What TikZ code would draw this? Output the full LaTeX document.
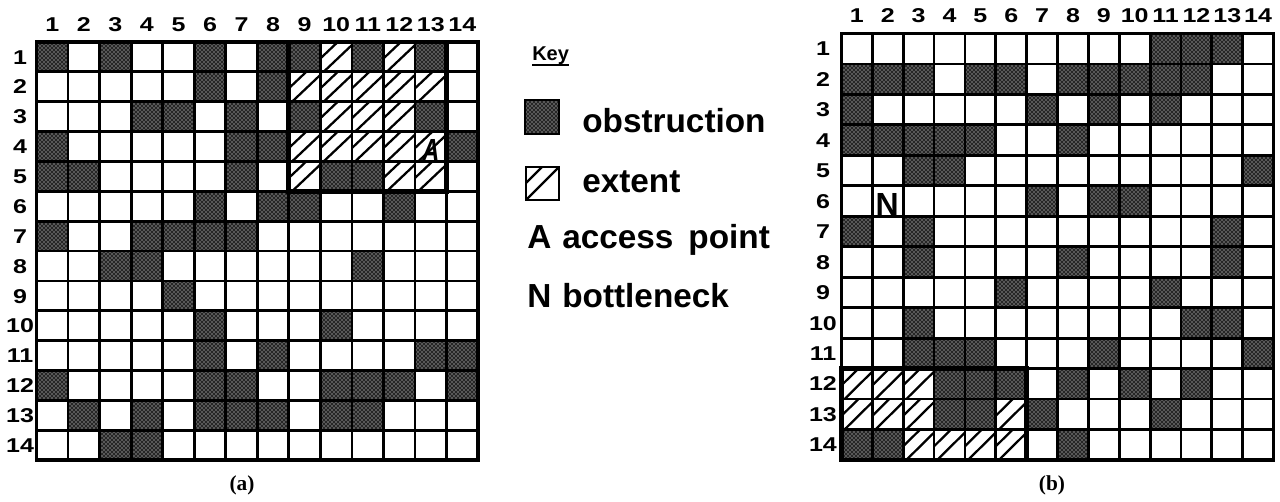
\documentclass[tikz,border=0pt]{standalone}
\usepackage{fontspec}
\usepackage{graphicx}
\usetikzlibrary{patterns}
\newfontfamily\labfont[FakeStretch=1.25]{Liberation Sans}
\newfontfamily\keyfont{Liberation Sans}
\newfontfamily\capfont{Liberation Serif}

\tikzset{
  gridline/.style={line width=2.1pt},
  gridframe/.style={line width=2.5pt},
  regionbox/.style={line width=3.6pt},
  hatchline/.style={line width=1.7pt},
  numlabel/.style={inner sep=0pt, anchor=base, yshift=-5.4pt,
    font=\labfont\bfseries\fontsize{15pt}{17pt}\selectfont},
  keytext/.style={inner sep=0pt, anchor=base west, font=\keyfont\bfseries\fontsize{25pt}{28pt}\selectfont},
  celltext/.style={inner sep=0pt, font=\keyfont\bfseries\fontsize{24pt}{26pt}\selectfont},
  caption/.style={inner sep=0pt, font=\capfont\bfseries\fontsize{16pt}{18pt}\selectfont},
  stipple/.style={pattern=crosshatch dots, pattern color=white},
}

% obstruction: dark stippled cell (column, row)
\newcommand\obstcell[2]{%
  \fill[black!85] (#1-1,#2-1) rectangle (#1,#2);
  \fill[stipple] (#1-1,#2-1) rectangle (#1,#2);}
% extent: cell with two diagonal hatch strokes
\newcommand\extcell[2]{%
  \begin{scope}
    \clip (#1-1,#2-1) rectangle (#1,#2);
    \draw[hatchline] (#1-1.1,#2-0.35) -- (#1-0.35,#2-1.1);
    \draw[hatchline] (#1-1,#2+0.1) -- (#1+0.1,#2-1);
  \end{scope}}
% 14 x 14 grid lines with frame and numbering
\newcommand\gridframe[3]{%
  \foreach \i in {0,...,14} {
    \draw[gridline] (\i,0) -- (\i,14);
    \draw[gridline] (0,\i) -- (14,\i);
  }
  \draw[gridframe] (0,0) rectangle (14,14);
  \foreach \i in {1,...,14} {
    \node[numlabel] (#1c\i) at (\i-0.5,-0.6) {\i};
    \node[numlabel] (#1r\i) at (#3,\i-0.5) {\i};
  }}

\begin{document}
\begin{tikzpicture}[x=0.75pt, y=-0.75pt]
\useasboundingbox (0,0) rectangle (1280,502);
\fill[white] (0,0) rectangle (1280,502);

% ---------------- grid (a) ----------------
\begin{scope}[shift={(36.5,42)}, x=23.66pt, y=-22.4pt]
  \foreach \r/\cl in {1/{1,3,6,8,9,11,13}, 2/{6,8}, 3/{4,5,7,9,13},
      4/{1,7,8,14}, 5/{1,2,7,10,11}, 6/{6,8,9,12}, 7/{1,4,5,6,7},
      8/{3,4,11}, 9/{5}, 10/{6,10}, 11/{6,8,13,14},
      12/{1,6,7,10,11,12,14}, 13/{2,4,6,7,8,10,11}, 14/{3,4}}
    { \foreach \c in \cl { \obstcell{\c}{\r} } }
  \foreach \r/\cl in {1/{10,12}, 2/{9,10,11,12,13}, 3/{10,11,12},
      4/{9,10,11,12,13}, 5/{9,12,13}}
    { \foreach \c in \cl { \extcell{\c}{\r} } }
  \gridframe{a}{0}{-0.52}
  \draw[regionbox] (8,0) rectangle (13,5);
  \node[celltext] (accesspt) at (12.5,3.62)
    {\scalebox{0.75}[1]{\itshape A}};
\end{scope}
\node[caption] (capa) at (242,485) {(a)};

% ---------------- key ----------------
\node[inner sep=0pt, anchor=base west,
  font=\keyfont\bfseries\fontsize{15pt}{17pt}\selectfont] (keytitle) at (532,61) {Key};
\draw[line width=1.6pt] ([yshift=-3pt]keytitle.base west) -- ([yshift=-3pt]keytitle.base east);

\fill[black!85] (525,100) rectangle (559,134);
\fill[stipple] (525,100) rectangle (559,134);
\draw[line width=1.6pt] (525,100) rectangle (559,134);
\node[keytext] (kobst) at (582,133) {obstruction};

\begin{scope}
  \clip (526,167) rectangle (559,200);
  \draw[hatchline] (526,200) -- (559,167);
  \draw[hatchline] (526,183) -- (542,167);
\end{scope}
\draw[line width=2pt] (526,167) rectangle (559,200);
\node[keytext] (kext) at (582,193) {extent};

\node[keytext] (kA) at (527,248) {A};
\node[keytext] (kacc) at (562,248) {access\hspace{0.45em}point};
\node[keytext] (kN) at (527,307) {N};
\node[keytext] (kbot) at (562,307) {bottleneck};

% ---------------- grid (b) ----------------
\begin{scope}[shift={(841.5,33.5)}, x=23.145pt, y=-22.845pt]
  \foreach \r/\cl in {1/{11,12,13}, 2/{1,2,3,5,6,8,9,10,11,12},
      3/{1,7,9,11}, 4/{1,2,3,4,5,8}, 5/{3,4,14}, 6/{7,9,10},
      7/{1,3,13}, 8/{3,8,13}, 9/{6,11}, 10/{3,12,13},
      11/{3,4,5,9,14}, 12/{4,5,6,8,10,12}, 13/{4,5,7,11}, 14/{1,2,8}}
    { \foreach \c in \cl { \obstcell{\c}{\r} } }
  \foreach \r/\cl in {12/{1,2,3}, 13/{1,2,3,6}, 14/{3,4,5,6}}
    { \foreach \c in \cl { \extcell{\c}{\r} } }
  \gridframe{b}{0}{-0.6}
  \draw[regionbox] (0,11) rectangle (6,14);
  \node[celltext] (bneck) at (1.48,5.6) {N};
\end{scope}
\node[caption] (capb) at (1052,485) {(b)};
\end{tikzpicture}
\end{document}
